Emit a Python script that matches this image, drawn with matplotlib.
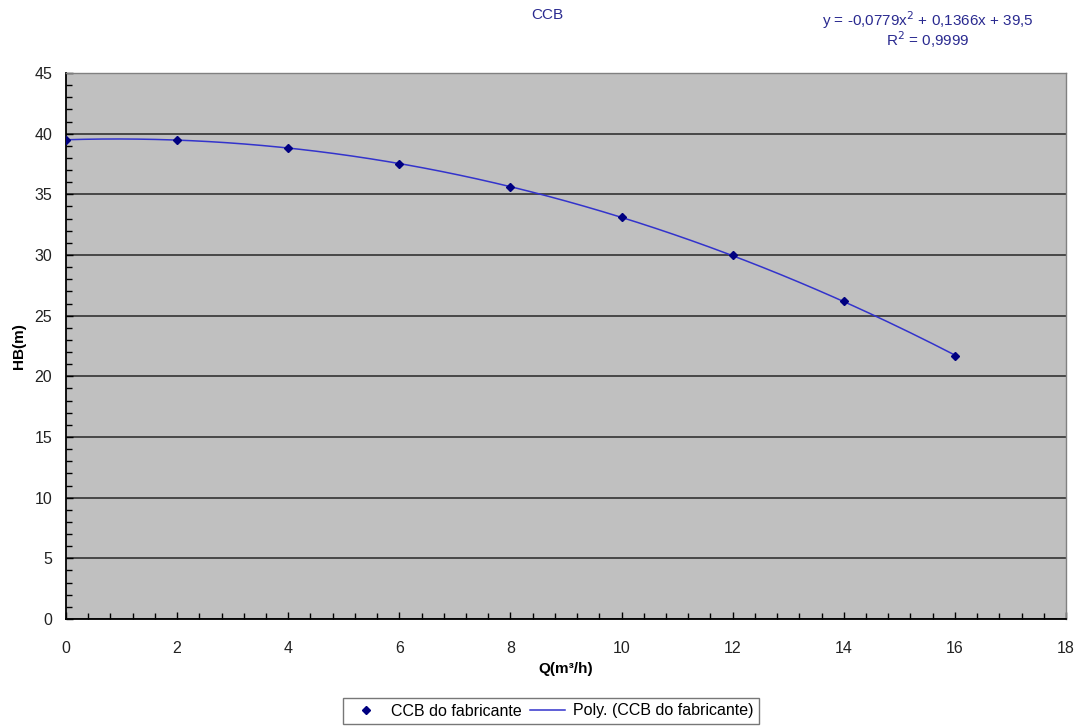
import numpy as np
import matplotlib
matplotlib.use("Agg")
import matplotlib.pyplot as plt
from matplotlib.ticker import MultipleLocator
from matplotlib.lines import Line2D

plt.rcParams['font.family'] = ['Liberation Sans', 'DejaVu Sans']

q_values = [0, 2, 4, 6, 8, 10, 12, 14, 16]
hb_values = [39.5, 39.5, 38.8, 37.5, 35.6, 33.1, 30.0, 26.2, 21.7]
title_text = "CCB"
eq_line1 = "y = -0,0779x$^2$ + 0,1366x + 39,5"
eq_line2 = "R$^2$ = 0,9999"
series_label = "CCB do fabricante"
trend_label = "Poly. (CCB do fabricante)"

fig = plt.figure(figsize=(10.78, 7.27), dpi=100)
ax = fig.add_axes([66/1078, 1 - 619/727, 1000/1078, 546/727])
ax.set_facecolor('#C0C0C0')

# trendline (2nd order polynomial fit of data)
coef = np.polyfit(q_values, hb_values, 2)
xs = np.linspace(min(q_values), max(q_values), 200)
ax.plot(xs, np.polyval(coef, xs), color='#3333CC', lw=1.1, zorder=3)
ax.plot(q_values, hb_values, linestyle='none', marker='D', markersize=4.5,
        color='#000080', zorder=4)

ax.set_xlim(0, 18)
ax.set_ylim(0, 45)
ax.xaxis.set_major_locator(MultipleLocator(2))
ax.xaxis.set_minor_locator(MultipleLocator(0.4))
ax.yaxis.set_major_locator(MultipleLocator(5))
ax.yaxis.set_minor_locator(MultipleLocator(1))
ax.tick_params(which='both', direction='in', length=4, width=1, color='black',
               labelsize=11.5, labelcolor='#222222')
ax.tick_params(which='major', length=5)
ax.tick_params(axis='x', pad=16)
ax.tick_params(axis='y', pad=10)
ax.yaxis.grid(True, which='major', color='#333333', lw=1.2)
ax.set_axisbelow(True)
for s in ['top', 'right']:
    ax.spines[s].set_color('#808080')
    ax.spines[s].set_linewidth(1)
for s in ['left', 'bottom']:
    ax.spines[s].set_color('black')
    ax.spines[s].set_linewidth(1.3)

ax.set_xlabel("Q(m³/h)", fontsize=11, fontweight='bold', labelpad=4)
ax.set_ylabel("HB(m)", fontsize=11, fontweight='bold', labelpad=6)

fig.text(547/1078, 1 - 15/727, title_text, ha='center', va='center',
         fontsize=11, color='#2a2a90')
fig.text(928/1078, 1 - 20/727, eq_line1, ha='center', va='center',
         fontsize=11, color='#2a2a90')
fig.text(928/1078, 1 - 40/727, eq_line2, ha='center', va='center',
         fontsize=11, color='#2a2a90')

handles = [Line2D([], [], linestyle='none', marker='D', markersize=4.5, color='#000080'),
           Line2D([], [], color='#3333CC', lw=1.1)]
leg = fig.legend(handles, [series_label, trend_label], loc='center',
                 bbox_to_anchor=(551/1078, 1 - 711/727), ncol=2, fontsize=11.5,
                 frameon=True, fancybox=False, edgecolor='#555555',
                 handlelength=2.2, handletextpad=0.5, columnspacing=0.5,
                 borderpad=0.35)
leg.get_frame().set_linewidth(1)

fig.savefig("out.png", dpi=100, facecolor='white')
